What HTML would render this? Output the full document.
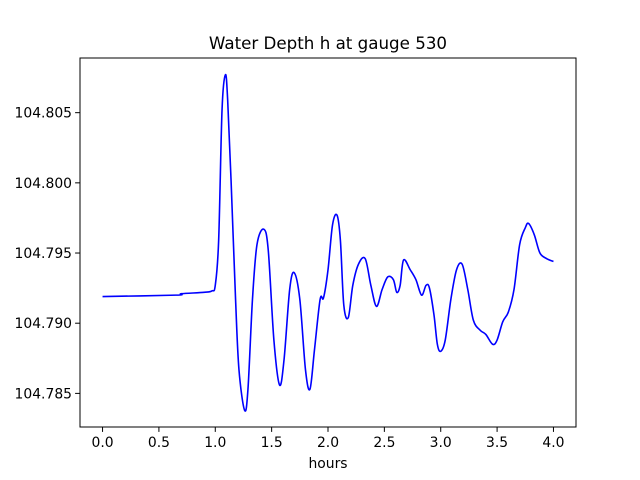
<!DOCTYPE html>
<html><head><meta charset="utf-8"><style>
body{margin:0;background:#fff;}
svg{display:block;font-family:"DejaVu Sans","Liberation Sans",sans-serif;}
</style></head><body>
<svg id="chart" width="640" height="480">
<rect x="0" y="0" width="640" height="480" fill="#fff"/>
<text x="328" y="49" text-anchor="middle" font-size="16.7">Water Depth h at gauge 530</text>
<text x="328" y="468" text-anchor="middle" font-size="13.9">hours</text>
<g id="ticks"></g>
<path id="line" fill="none" stroke="#0000ff" stroke-width="1.6"/>
<rect x="80" y="58" width="496" height="369" fill="none" stroke="#000" stroke-width="1"/>
</svg>
<script>
const hours=[0,0.65,0.7,0.9,0.97,1.0,1.03,1.06,1.09,1.11,1.14,1.18,1.21,1.26,1.29,1.33,1.37,1.43,1.47,1.52,1.57,1.61,1.66,1.7,1.75,1.8,1.84,1.88,1.93,1.96,2.0,2.04,2.08,2.11,2.14,2.18,2.22,2.27,2.33,2.38,2.43,2.48,2.53,2.58,2.61,2.64,2.67,2.73,2.78,2.83,2.87,2.9,2.94,2.97,3.0,3.04,3.09,3.14,3.19,3.24,3.29,3.35,3.4,3.46,3.5,3.55,3.6,3.65,3.7,3.75,3.78,3.83,3.88,3.94,4.0];
const depth=[104.7919,104.7920,104.7921,104.7922,104.7923,104.7927,104.7959,104.8052,104.8077,104.8059,104.8002,104.7917,104.7867,104.7838,104.7853,104.7917,104.7956,104.7967,104.7952,104.7888,104.7856,104.7874,104.7924,104.7936,104.7917,104.7867,104.7853,104.7881,104.7917,104.7918,104.7938,104.7970,104.7977,104.7959,104.7913,104.7904,104.7927,104.7942,104.7946,104.7927,104.7912,104.7924,104.7933,104.7931,104.7922,104.7927,104.7945,104.7938,104.7931,104.7920,104.7927,104.7925,104.7906,104.7885,104.7880,104.7888,104.7917,104.7938,104.7942,104.7924,104.7902,104.7895,104.7892,104.7885,104.7888,104.7901,104.7908,104.7924,104.7956,104.7968,104.7971,104.7963,104.7950,104.7946,104.7944];
const xTicks=[0,0.5,1,1.5,2,2.5,3,3.5,4];
const xTickLabels=["0.0","0.5","1.0","1.5","2.0","2.5","3.0","3.5","4.0"];
const yTicks=[104.785,104.790,104.795,104.800,104.805];
const yTickLabels=["104.785","104.790","104.795","104.800","104.805"];
const L=80,R=576,T=58,B=427;
const xmin=Math.min(...hours),xmax=Math.max(...hours);
const ymin=Math.min(...depth),ymax=Math.max(...depth);
const xl=xmin-(xmax-xmin)*0.05,xh=xmax+(xmax-xmin)*0.05;
const yl=ymin-(ymax-ymin)*0.05,yh=ymax+(ymax-ymin)*0.05;
const sx=v=>L+(v-xl)/(xh-xl)*(R-L);
const sy=v=>B-(v-yl)/(yh-yl)*(B-T);
const NS='http://www.w3.org/2000/svg';
const g=document.getElementById('ticks');
xTicks.forEach((t,i)=>{
 const x=sx(t);
 const ln=document.createElementNS(NS,'line');
 ln.setAttribute('x1',x);ln.setAttribute('x2',x);ln.setAttribute('y1',B);ln.setAttribute('y2',B+4.9);ln.setAttribute('stroke','#000');
 
 
 g.appendChild(ln);
 const tx=document.createElementNS(NS,'text');
 tx.setAttribute('x',x);tx.setAttribute('y',B+20);tx.setAttribute('text-anchor','middle');tx.setAttribute('font-size','13.9');
 tx.textContent=xTickLabels[i];
 
 
 g.appendChild(tx);
});
yTicks.forEach((t,i)=>{
 const y=sy(t);
 const ln=document.createElementNS(NS,'line');
 ln.setAttribute('x1',L-4.9);ln.setAttribute('x2',L);ln.setAttribute('y1',y);ln.setAttribute('y2',y);ln.setAttribute('stroke','#000');
 
 
 g.appendChild(ln);
 const tx=document.createElementNS(NS,'text');
 tx.setAttribute('x',L-8);tx.setAttribute('y',y+5);tx.setAttribute('text-anchor','end');tx.setAttribute('font-size','13.9');
 tx.textContent=yTickLabels[i];
 
 
 g.appendChild(tx);
});
const P=hours.map((h,i)=>[sx(h),sy(depth[i])]);
let d='M'+P[0][0].toFixed(2)+','+P[0][1].toFixed(2);
for(let i=0;i<P.length-1;i++){
 const p0=P[Math.max(0,i-1)],p1=P[i],p2=P[i+1],p3=P[Math.min(P.length-1,i+2)];
 const c1=[p1[0]+(p2[0]-p0[0])/6,p1[1]+(p2[1]-p0[1])/6];
 const c2=[p2[0]-(p3[0]-p1[0])/6,p2[1]-(p3[1]-p1[1])/6];
 d+=' C'+c1[0].toFixed(2)+','+c1[1].toFixed(2)+' '+c2[0].toFixed(2)+','+c2[1].toFixed(2)+' '+p2[0].toFixed(2)+','+p2[1].toFixed(2);
}
document.getElementById('line').setAttribute('d',d);
</script>
</body></html>
